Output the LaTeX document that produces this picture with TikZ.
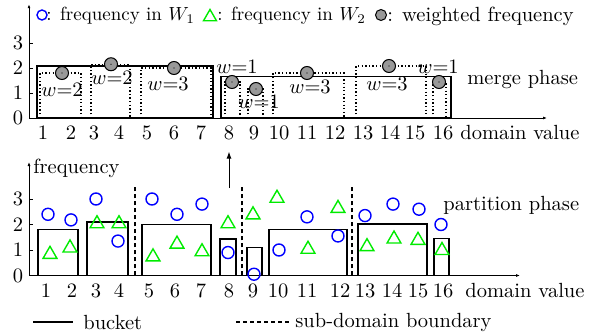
\documentclass[tikz,border=0pt]{standalone}
\usepackage{graphicx}
\usetikzlibrary{arrows.meta,shapes.geometric}
\definecolor{bblue}{RGB}{0,0,255}
\definecolor{ggreen}{RGB}{0,235,0}
\definecolor{wgrey}{gray}{0.6}
\begin{document}
\begin{tikzpicture}[x=1pt,y=1pt,
 txt/.style={font=\fontsize{10}{12}\selectfont, scale=2.05, inner sep=0pt},
 legtxt/.style={font=\fontsize{10}{12}\selectfont, scale=1.9, inner sep=0pt},
 axisline/.style={line width=0.9pt, -{Latex[length=4pt,width=3pt]}},
 tickline/.style={line width=0.8pt},
 bucket/.style={line width=1.6pt},
 subb/.style={line width=1.3pt, dash pattern=on 1.3pt off 2.3pt},
 bnd/.style={line width=1.3pt, dash pattern=on 4pt off 3pt},
 bc/.style={circle, draw=bblue, line width=1.4pt, minimum size=12pt, inner sep=0pt},
 gt/.style={regular polygon, regular polygon sides=3, draw=ggreen, line width=1.4pt, minimum size=16pt, inner sep=0pt},
 gc/.style={circle, draw=black, fill=wgrey, line width=1pt, minimum size=13pt, inner sep=0pt},
 uparrow/.style={line width=1pt, -{Latex[length=7pt,width=5pt]}},
]
\useasboundingbox (0,0) rectangle (603,335);
% ---------------- top legend ----------------
\node[bc, minimum size=10pt] (lgc) at (42,320) {};
\node[legtxt, anchor=west] (lgt1) at (46,319) {: frequency in $W_1$};
\node[gt, minimum size=15pt] (lgt) at (210,318) {};
\node[legtxt, anchor=west] (lgt2) at (217,319) {: frequency in $W_2$};
\node[gc, minimum size=11pt] (lgg) at (381,320) {};
\node[txt, anchor=west] (lgt3) at (387,319) {: weighted frequency};
% ---------------- merge phase (top) ----------------
\begin{scope}[yshift=217pt, y=25pt]
 \coordinate (tO) at (29,0);
 \coordinate (tY) at (29,4.55);
 \coordinate (tX) at (547,0);
 \draw[axisline] (tO) -- (tY);
 \draw[axisline] (tO) -- (tX);
 \foreach \v in {1,2,3} \draw[tickline] (29,\v) -- (33,\v);
 \foreach \v in {0,1,2,3} \node[txt] (ty\v) at (18,\v) {\v};
 \foreach \x [count=\i] in {43,71,94,119,147,174,201,229,254,279,307,335,363,390,415,443}
   \node[txt] (tx\i) at (\x,-0.6) {\i};
 \node[txt, anchor=west] (tdv) at (460,-0.6) {domain value};
 % dotted sub buckets
 \draw[subb] (40,0) rectangle (81,1.8);
 \draw[subb] (91,0) rectangle (130,2.15);
 \draw[subb] (141,0) rectangle (211,2.0);
 \draw[subb] (225,0) rectangle (240,1.45);
 \draw[subb] (248,0) rectangle (263,1.16);
 \draw[subb] (273,0) rectangle (344,1.8);
 \draw[subb] (356,0) rectangle (426,2.08);
 \draw[subb] (433,0) rectangle (446,1.44);
 % merged buckets
 \draw[bucket] (37,0) rectangle (213,2.08);
 \draw[bucket] (221,0) rectangle (451,1.66);
 % weighted frequencies
 \foreach \x/\v [count=\i] in {62/1.8,111/2.15,174/2.0,232/1.44,256/1.16,307/1.8,389/2.08,439/1.44}{
   \node[gc] (g\i) at (\x,\v) {};
   \fill (g\i) circle (0.7pt);
 }
 % weights
 \node[txt] (w1) at (62,1.12) {$w{=}2$};
 \node[txt] (w2) at (112,1.6) {$w{=}2$};
 \node[txt] (w3) at (168,1.36) {$w{=}3$};
 \node[txt] (w4) at (237,2.04) {$w{=}1$};
 \node[txt] (w5) at (259,0.64) {$w{=}1$};
 \node[txt] (w6) at (310,1.26) {$w{=}3$};
 \node[txt] (w7) at (387,1.36) {$w{=}3$};
 \node[txt] (w8) at (438,2.04) {$w{=}1$};
 \node[txt, anchor=west] (mp) at (467,1.52) {merge phase};
\end{scope}
% ---------------- partition phase (bottom) ----------------
\begin{scope}[yshift=59.5pt, y=25.5pt]
 \coordinate (bO) at (29,0);
 \coordinate (bY) at (29,4.45);
 \coordinate (bX) at (520,0);
 \draw[axisline] (bO) -- (bY);
 \draw[axisline] (bO) -- (bX);
 \foreach \v in {1,2,3} \draw[tickline] (29,\v) -- (33,\v);
 \foreach \v in {0,1,2,3} \node[txt] (by\v) at (18,\v) {\v};
 \foreach \x [count=\i] in {46,72,96,119,149,175,201,229,253,278,307,340,365,392,418,443}
   \node[txt] (bx\i) at (\x,-0.6) {\i};
 \node[txt, anchor=west] (bdv) at (465,-0.57) {domain value};
 \node[txt, anchor=west] (bfq) at (33,4.22) {frequency};
 \node[txt, anchor=west] (pp) at (443,2.76) {partition phase};
 % buckets
 \draw[bucket] (38,0) rectangle (78,1.8);
 \draw[bucket] (87,0) rectangle (128,2.1);
 \draw[bucket] (142,0) rectangle (211,2.0);
 \draw[bucket] (220,0) rectangle (236,1.42);
 \draw[bucket] (247,0) rectangle (262,1.1);
 \draw[bucket] (269,0) rectangle (347,1.8);
 \draw[bucket] (358,0) rectangle (427,2.03);
 \draw[bucket] (434,0) rectangle (449,1.45);
 % sub-domain boundaries
 \foreach \x [count=\i] in {135,242,352}{
   \coordinate (sdA\i) at (\x,0);
   \coordinate (sdB\i) at (\x,3.47);
   \draw[bnd] (sdA\i) -- (sdB\i);
 }
 % frequencies in W1
 \foreach \x/\v [count=\i] in {48/2.4,71/2.18,96/3.0,118/1.35,152/3.0,177/2.4,202/2.8,228/0.9,254/0.05,279/1.0,307/2.3,338/1.55,365/2.35,393/2.8,419/2.6,441/2.0}
   \node[bc] (c\i) at (\x,\v) {};
 % frequencies in W2
 \foreach \x/\v [count=\i] in {50/0.83,70/1.08,97/2.03,119/2.03,153/0.73,177/1.23,202/0.93,228/2.03,253/2.38,277/3.03,308/1.03,338/2.63,367/1.13,394/1.43,418/1.38,442/0.98}
   \node[gt] (t\i) at (\x,\v) {};
 % arrow to merge phase
 \coordinate (arrS) at (229,3.43);
 \coordinate (arrE) at (229,4.86);
 \draw[uparrow] (arrS) -- (arrE);
\end{scope}
% ---------------- bottom legend ----------------
\coordinate (lb1) at (33,13);
\coordinate (lb2) at (73,13);
\draw[line width=1.2pt] (lb1) -- (lb2);
\node[txt, anchor=west] (lbt) at (83,13) {bucket};
\coordinate (ld1) at (236,13);
\coordinate (ld2) at (290,13);
\draw[line width=1.2pt, dash pattern=on 4pt off 3pt] (ld1) -- (ld2);
\node[txt, anchor=west] (ldt) at (295,13) {sub-domain boundary};
\end{tikzpicture}
\end{document}
